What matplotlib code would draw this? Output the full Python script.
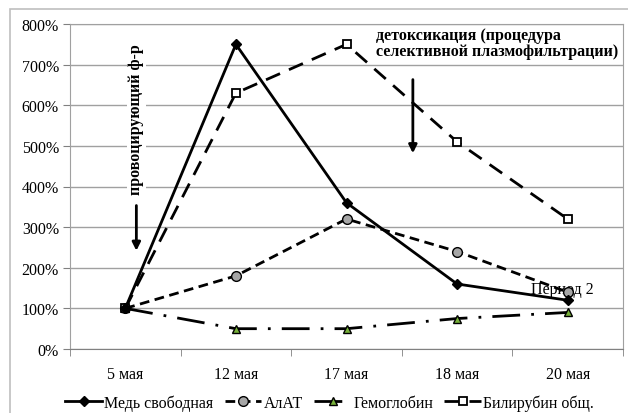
import matplotlib.pyplot as plt
from matplotlib.patches import Rectangle
from matplotlib.ticker import FuncFormatter, FixedLocator

plt.rcParams['font.family'] = 'Liberation Serif'
plt.rcParams['font.size'] = 11.5

dates = ['5 мая', '12 мая', '17 мая', '18 мая', '20 мая']
copper = [100, 750, 360, 160, 120]
alt = [100, 180, 320, 240, 140]
hemoglobin = [100, 50, 50, 75, 90]
bilirubin = [100, 630, 750, 510, 320]

fig = plt.figure(figsize=(6.28, 4.14), dpi=100)
# chart border (runs off the right and bottom edges)
fig.patches.append(Rectangle((10 / 628, -0.1), 1.1, (414 - 10) / 414 + 0.1,
                             transform=fig.transFigure, fill=False,
                             edgecolor='#bfbfbf', linewidth=1.2))

ax = fig.add_axes([70 / 628, 64 / 414, 553 / 628, 325 / 414])
x = list(range(len(dates)))

ax.plot(x, copper, color='black', linewidth=2, marker='D', markersize=5,
        markerfacecolor='black', label='Медь свободная', zorder=5)
ax.plot(x, alt, color='black', linewidth=2, linestyle=(0, (3.5, 2)),
        marker='o', markersize=7, markerfacecolor='#a6a6a6',
        markeredgecolor='black', markeredgewidth=1, label='АлАТ', zorder=4)
ax.plot(x, hemoglobin, color='black', linewidth=2, linestyle=(0, (10, 4, 1, 4)),
        marker='^', markersize=6, markerfacecolor='#77b03a',
        markeredgecolor='black', markeredgewidth=1, label='Гемоглобин', zorder=4)
ax.plot(x, bilirubin, color='black', linewidth=2, linestyle=(0, (5.5, 3.5)),
        marker='s', markersize=6, markerfacecolor='white',
        markeredgecolor='black', markeredgewidth=1.3,
        label='Билирубин общ.', zorder=4)

ax.set_xlim(-0.5, 4.5)
ax.set_ylim(0, 800)
ax.set_yticks(range(0, 801, 100))
ax.yaxis.set_major_formatter(FuncFormatter(lambda v, p: '%d%%' % v))
ax.set_xticks(x)
ax.set_xticklabels(dates)
ax.xaxis.set_minor_locator(FixedLocator([i - 0.5 for i in range(6)]))
ax.tick_params(axis='x', which='major', length=0, pad=12)
ax.tick_params(axis='x', which='minor', length=5, color='#808080')
ax.tick_params(axis='y', length=5, color='#808080', pad=3)
ax.grid(axis='y', color='#a0a0a0', linewidth=1)
ax.set_axisbelow(True)
for side in ['left', 'right', 'top', 'bottom']:
    ax.spines[side].set_color('#a0a0a0')
ax.spines['bottom'].set_color('#808080')

# event markers
ax.text(0.1, 566, 'провоцирующий ф-р', rotation=90, ha='center', va='center',
        fontweight='bold', fontsize=11.5,
        bbox=dict(facecolor='white', edgecolor='none', pad=1))
ax.annotate('', xy=(0.1, 235), xytext=(0.1, 360),
            arrowprops=dict(arrowstyle='-|>', color='black', lw=2,
                            mutation_scale=12))
ax.text(2.27, 792, 'детоксикация (процедура\nселективной плазмофильтрации)',
        ha='left', va='top', fontweight='bold', fontsize=11.5, linespacing=1.0)
ax.annotate('', xy=(2.6, 475), xytext=(2.6, 670),
            arrowprops=dict(arrowstyle='-|>', color='black', lw=2,
                            mutation_scale=12))
ax.text(3.95, 148, 'Период 2', ha='center', va='center', fontsize=11.5)

fig.legend(loc='lower center', bbox_to_anchor=(0.525, -0.03), ncol=4,
           frameon=False, handlelength=2.3, columnspacing=0.7,
           handletextpad=0.15, fontsize=11.5)

fig.savefig('out.png', dpi=100)
